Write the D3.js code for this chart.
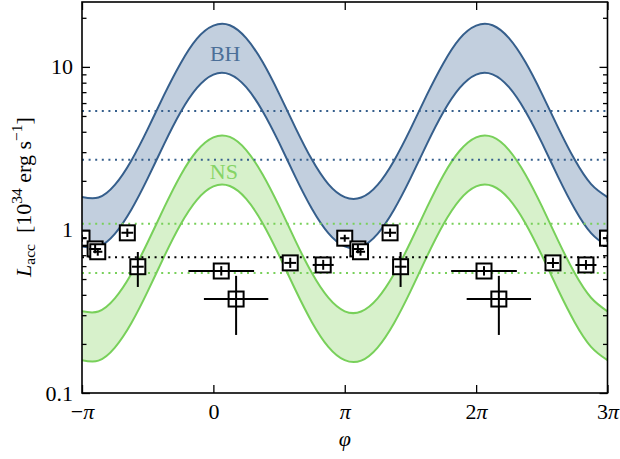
<!DOCTYPE html>
<html>
<head>
<meta charset="utf-8">
<script src="https://cdn.jsdelivr.net/npm/d3@7"></script>
<style>
  body { margin: 0; background: #fff; }
  svg text { font-family: "Liberation Serif", "DejaVu Serif", serif; }
</style>
</head>
<body>
<div id="chart"></div>
<script>
// phase in units of pi
const curvePhase = [-1, -0.875, -0.75, -0.625, -0.5, -0.375, -0.25, -0.125, 0, 0.125, 0.25, 0.375, 0.5, 0.625, 0.75, 0.875,
  1, 1.125, 1.25, 1.375, 1.5, 1.625, 1.75, 1.875, 2, 2.125, 2.25, 2.375, 2.5, 2.625, 2.75, 2.875, 3];

const bhUpper = [1.59, 1.58, 1.89, 2.66, 4.15, 6.73, 10.5, 14.9, 17.9, 18.0, 15.0, 10.7, 6.86, 4.23, 2.70, 1.91,
  1.59, 1.58, 1.89, 2.66, 4.15, 6.73, 10.5, 14.9, 17.9, 18.0, 15.0, 10.7, 6.86, 4.23, 2.70, 1.91, 1.59];
const bhLower = [0.793, 0.790, 0.947, 1.33, 2.07, 3.36, 5.27, 7.43, 8.97, 9.00, 7.51, 5.35, 3.43, 2.11, 1.35, 0.957,
  0.793, 0.790, 0.947, 1.33, 2.07, 3.36, 5.27, 7.43, 8.97, 9.00, 7.51, 5.35, 3.43, 2.11, 1.35, 0.957, 0.793];
const nsUpper = [0.317, 0.316, 0.380, 0.536, 0.840, 1.37, 2.16, 3.06, 3.70, 3.72, 3.09, 2.19, 1.40, 0.857, 0.544, 0.384,
  0.317, 0.316, 0.380, 0.536, 0.840, 1.37, 2.16, 3.06, 3.70, 3.72, 3.09, 2.19, 1.40, 0.857, 0.544, 0.384, 0.317];
const nsLower = [0.159, 0.158, 0.190, 0.268, 0.420, 0.686, 1.08, 1.53, 1.85, 1.86, 1.55, 1.10, 0.699, 0.428, 0.272, 0.192,
  0.159, 0.158, 0.190, 0.268, 0.420, 0.686, 1.08, 1.53, 1.85, 1.86, 1.55, 1.10, 0.699, 0.428, 0.272, 0.192, 0.159];

const bhLevels = [5.37, 2.69];
const nsLevels = [1.09, 0.545];
const dataLevel = 0.68;

// observed points (one cycle, phase in units of pi), repeated every 2 pi
const ptPhase = [1.00, 1.10, 1.12, 1.345, 1.425, 0.06, 0.173, 0.585, 0.836];
const ptPhaseErr = [0.035, 0.045, 0.035, 0.045, 0.045, 0.25, 0.245, 0.045, 0.08];
const ptValue = [0.89, 0.765, 0.735, 0.96, 0.595, 0.56, 0.377, 0.628, 0.61];
const ptLow = [0.845, 0.72, 0.695, 0.905, 0.447, 0.525, 0.227, 0.585, 0.57];
const ptHigh = [0.935, 0.815, 0.775, 1.02, 0.733, 0.60, 0.523, 0.675, 0.655];
const cycles = [-2, 0, 2];

const xTicks = [-1, 0, 1, 2, 3];
const xTickLabels = ['−π', '0', 'π', '2π', '3π'];
const yTicks = [0.1, 1, 10];
const yTickLabels = ['0.1', '1', '10'];
const yMinor = [0.2, 0.3, 0.4, 0.5, 0.6, 0.7, 0.8, 0.9, 2, 3, 4, 5, 6, 7, 8, 9, 20];

const WIDTH = 620;
const HEIGHT = 459;
const LEFT = 82;
const RIGHT = 607.5;
const TOP = 2;
const BOTTOM = 393;
const FONT = 22;

const BLUE = '#365f8c';
const BLUE_FILL = '#c2cfde';
const GREEN = '#78d05a';
const GREEN_FILL = '#d7f1cb';

const x = d3.scaleLinear().domain([-1, 3]).range([LEFT, RIGHT]);
const y = d3.scaleLog().domain([0.1, 25]).range([BOTTOM, TOP]);

const svg = d3.select('#chart').append('svg').attr('width', WIDTH).attr('height', HEIGHT);

svg.append('clipPath').attr('id', 'clip')
  .append('rect').attr('x', LEFT).attr('y', TOP).attr('width', RIGHT - LEFT).attr('height', BOTTOM - TOP);

const plot = svg.append('g').attr('clip-path', 'url(#clip)');

const area = d3.area()
  .x((d, i) => x(curvePhase[i]))
  .y0((d) => y(d[0]))
  .y1((d) => y(d[1]))
  .curve(d3.curveNatural);
const line = d3.line()
  .x((d, i) => x(curvePhase[i]))
  .y((d) => y(d))
  .curve(d3.curveNatural);

plot.append('path').attr('d', area(d3.zip(bhLower, bhUpper))).attr('fill', BLUE_FILL);
plot.append('path').attr('d', area(d3.zip(nsLower, nsUpper))).attr('fill', GREEN_FILL);

[[bhUpper, BLUE], [bhLower, BLUE], [nsUpper, GREEN], [nsLower, GREEN]].forEach(([vals, color]) => {
  plot.append('path').attr('d', line(vals)).attr('fill', 'none')
    .attr('stroke', color).attr('stroke-width', 2);
});

const levels = [
  ...bhLevels.map((v) => [v, BLUE]),
  ...nsLevels.map((v) => [v, GREEN]),
  [dataLevel, '#000'],
];
plot.selectAll('line.level').data(levels).join('line')
  .attr('class', 'level')
  .attr('x1', LEFT).attr('x2', RIGHT)
  .attr('y1', (d) => y(d[0])).attr('y2', (d) => y(d[0]))
  .attr('stroke', (d) => d[1])
  .attr('stroke-width', 2)
  .attr('stroke-dasharray', '2,4.6');

const points = [];
cycles.forEach((c) => {
  ptPhase.forEach((p, i) => {
    points.push({ phase: p + c, err: ptPhaseErr[i], value: ptValue[i], low: ptLow[i], high: ptHigh[i] });
  });
});

const SQ = 15;
plot.selectAll('rect.pt').data(points).join('rect')
  .attr('class', 'pt')
  .attr('x', (d) => x(d.phase) - SQ / 2)
  .attr('y', (d) => y(d.value) - SQ / 2)
  .attr('width', SQ).attr('height', SQ)
  .attr('fill', '#fff').attr('stroke', '#000').attr('stroke-width', 2);

plot.selectAll('line.xerr').data(points).join('line')
  .attr('class', 'xerr')
  .attr('x1', (d) => x(d.phase - d.err)).attr('x2', (d) => x(d.phase + d.err))
  .attr('y1', (d) => y(d.value)).attr('y2', (d) => y(d.value))
  .attr('stroke', '#000').attr('stroke-width', 2);
plot.selectAll('line.yerr').data(points).join('line')
  .attr('class', 'yerr')
  .attr('x1', (d) => x(d.phase)).attr('x2', (d) => x(d.phase))
  .attr('y1', (d) => y(d.low)).attr('y2', (d) => y(d.high))
  .attr('stroke', '#000').attr('stroke-width', 2);

// band labels
svg.append('text').attr('x', x(0.09)).attr('y', 61).attr('text-anchor', 'middle')
  .attr('font-size', FONT).attr('fill', '#4b6f98').text('BH');
svg.append('text').attr('x', x(0.08)).attr('y', 179).attr('text-anchor', 'middle')
  .attr('font-size', FONT).attr('fill', '#86d466').text('NS');

// axes, ticks pointing inward
const styleAxis = (g) => {
  g.select('.domain').remove();
  g.attr('font-size', FONT).attr('font-family', '"Liberation Serif", "DejaVu Serif", serif');
  g.selectAll('.tick line').attr('stroke-width', 1.3);
};

svg.append('g').attr('transform', `translate(0,${BOTTOM})`)
  .call(d3.axisBottom(x).tickValues(xTicks).tickSizeInner(-8).tickSizeOuter(0).tickPadding(10)
    .tickFormat((d, i) => xTickLabels[i]))
  .call(styleAxis)
  .selectAll('.tick text')
  .each(function (d, i) {
    const label = xTickLabels[i];
    const t = d3.select(this).text(null);
    if (label.includes('π')) {
      t.append('tspan').text(label.replace('π', ''));
      t.append('tspan').attr('font-style', 'italic').text('π');
    } else {
      t.text(label);
    }
  });

svg.append('g').attr('transform', `translate(0,${TOP})`)
  .call(d3.axisTop(x).tickValues(xTicks).tickSizeInner(-8).tickSizeOuter(0).tickFormat(''))
  .call(styleAxis);

svg.append('g').attr('transform', `translate(${LEFT},0)`)
  .call(d3.axisLeft(y).tickValues(yTicks).tickSizeInner(-8).tickSizeOuter(0).tickPadding(9)
    .tickFormat((d, i) => yTickLabels[i]))
  .call(styleAxis);
svg.append('g').attr('transform', `translate(${LEFT},0)`)
  .call(d3.axisLeft(y).tickValues(yMinor).tickSizeInner(-4.5).tickSizeOuter(0).tickFormat(''))
  .call(styleAxis);
svg.append('g').attr('transform', `translate(${RIGHT},0)`)
  .call(d3.axisRight(y).tickValues(yTicks).tickSizeInner(-8).tickSizeOuter(0).tickFormat(''))
  .call(styleAxis);
svg.append('g').attr('transform', `translate(${RIGHT},0)`)
  .call(d3.axisRight(y).tickValues(yMinor).tickSizeInner(-4.5).tickSizeOuter(0).tickFormat(''))
  .call(styleAxis);

svg.append('rect')
  .attr('x', LEFT).attr('y', TOP).attr('width', RIGHT - LEFT).attr('height', BOTTOM - TOP)
  .attr('fill', 'none').attr('stroke', '#000').attr('stroke-width', 1.6);

// axis titles
svg.append('text').attr('x', x(1)).attr('y', 446).attr('text-anchor', 'middle')
  .attr('font-size', FONT).attr('font-style', 'italic').text('φ');

const yTitle = svg.append('text')
  .attr('transform', `translate(31,197) rotate(-90)`)
  .attr('text-anchor', 'middle')
  .attr('font-size', FONT);
yTitle.append('tspan').attr('font-style', 'italic').text('L');
yTitle.append('tspan').attr('font-size', 15.5).attr('dy', 4).text('acc');
yTitle.append('tspan').attr('dy', -4).text('\u2002[10');
yTitle.append('tspan').attr('font-size', 15.5).attr('dy', -9).text('34');
yTitle.append('tspan').attr('dy', 9).text(' erg s');
yTitle.append('tspan').attr('font-size', 15.5).attr('dy', -9).text('−1');
yTitle.append('tspan').attr('dy', 9).text(']');
</script>
</body>
</html>
